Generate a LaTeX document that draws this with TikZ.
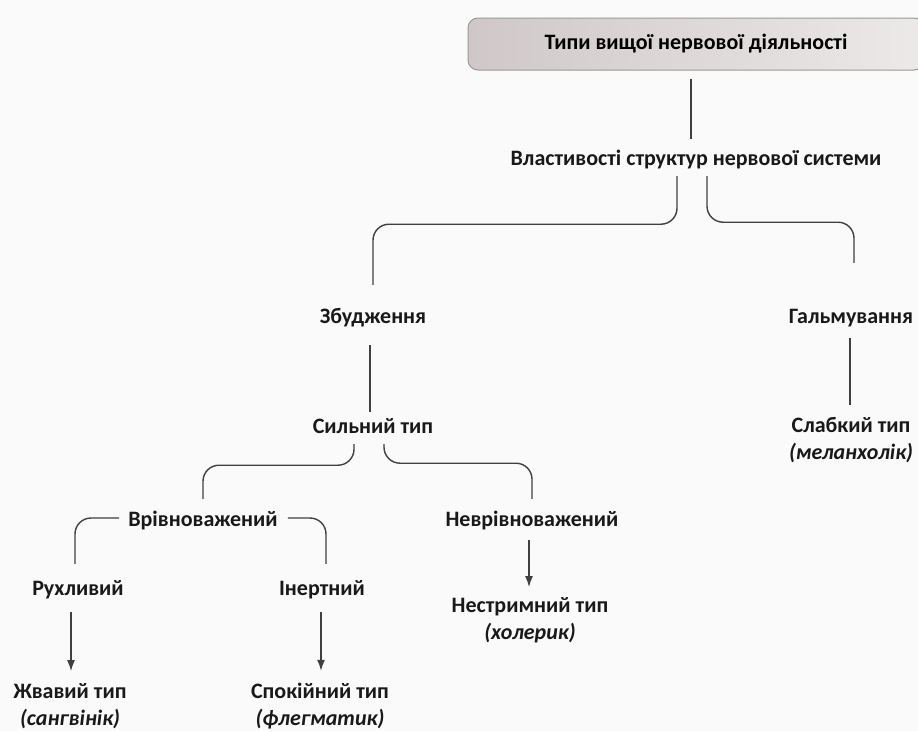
\documentclass[tikz,border=0pt]{standalone}
\usepackage{fontspec}
\setmainfont{Carlito}
\usetikzlibrary{arrows.meta}
\definecolor{boxleft}{RGB}{208,200,200}
\definecolor{boxright}{RGB}{236,233,233}

\begin{document}
\begin{tikzpicture}[x=1pt,y=-1pt,>={Latex[length=11pt,width=8pt]},node distance=110pt,
                    font=\fontsize{22}{27}\selectfont\bfseries,
                    titlebox/.style={rectangle, minimum width=456pt, minimum height=52pt, rounded corners=10pt, text centered, draw=black!40, line width=1pt, left color=boxleft, right color=boxright},
                    lbl/.style={rectangle, inner sep=6pt, text height=15pt, text depth=5pt, text=black!90},
                    typebox/.style={rectangle, inner sep=6pt, align=center, text=black!90},
                    link/.style={draw=black!75, line width=1.4pt, rounded corners=16pt},
                    arr/.style={->, draw=black!75, line width=1.4pt}]
        \fill[black!2] (0,0) rectangle (918,731);
        \useasboundingbox (0,0) rectangle (918,731);

        \node (Types) [titlebox] at (696,44) {Типи вищої нервової діяльності};
        \node (Props) [lbl, below of=Types, yshift=-6pt] {Властивості структур нервової системи};
        \node (Zbud) [lbl, below of=Props, xshift=-323pt, yshift=-48pt] {Збудження};
        \node (Galm) [lbl, below of=Props, xshift=155pt, yshift=-48pt] {Гальмування};
        \node (Strong) [lbl, below of=Zbud] {Сильний тип};
        \node (Weak) [typebox, below of=Galm, yshift=-12pt] {Слабкий тип\\\textit{(меланхолік)}};
        \node (Bal) [lbl, below of=Strong, xshift=-170pt, yshift=17pt] {Врівноважений};
        \node (Unbal) [lbl, right of=Bal, xshift=219pt] {Неврівноважений};
        \node (Mobile) [lbl, below of=Bal, xshift=-125pt, yshift=41pt] {Рухливий};
        \node (Inert) [lbl, right of=Mobile, xshift=134pt] {Інертний};
        \node (Lively) [typebox, below of=Mobile, xshift=-8pt, yshift=-6pt] {Жвавий тип\\\textit{(сангвінік)}};
        \node (Calm) [typebox, below of=Inert, xshift=-2pt, yshift=-6pt] {Спокійний тип\\\textit{(флегматик)}};
        \node (Unrestr) [typebox, below of=Unbal, xshift=-2pt, yshift=11pt] {Нестримний тип\\\textit{(холерик)}};

        \draw[link, shorten <=8pt, shorten >=5pt] ([xshift=-5pt]Types.south) -- ([xshift=-5pt]Props.north);
        \draw[link, shorten >=17pt] ([xshift=-19pt]Props.south) -- ++(0,48) -| (Zbud.north);
        \draw[link, shorten >=39pt] ([xshift=11pt]Props.south) -- ++(0,46) -| ([xshift=3pt]Galm.north);
        \draw[link, shorten <=11pt] ([xshift=-3pt]Zbud.south) -- ([xshift=-3pt]Strong.north);
        \draw[link, shorten <=4pt, shorten >=6pt] ([xshift=-1pt]Galm.south) -- ([xshift=-1pt]Galm.south |- Weak.north);
        \draw[link, shorten >=6pt] ([xshift=-19pt]Strong.south) -- ++(0,21) -| (Bal.north);
        \draw[link, shorten >=6pt] ([xshift=11pt]Strong.south) -- ++(0,19) -| (Unbal.north);
        \draw[link, shorten <=3pt, shorten >=10pt] ([yshift=3pt]Bal.west) -| ([xshift=-3pt]Mobile.north);
        \draw[link, shorten <=4pt, shorten >=10pt] ([yshift=3pt]Bal.east) -| ([xshift=4pt]Inert.north);
        \draw[arr, shorten <=6pt, shorten >=6pt] ([xshift=-7pt]Mobile.south) -- ([xshift=-7pt]Mobile.south |- Lively.north);
        \draw[arr, shorten <=6pt, shorten >=6pt] ([xshift=-1pt]Inert.south) -- ([xshift=-1pt]Inert.south |- Calm.north);
        \draw[arr, shorten <=3pt, shorten >=4pt] ([xshift=-3pt]Unbal.south) -- ([xshift=-3pt]Unbal.south |- Unrestr.north);
\end{tikzpicture}
\end{document}
